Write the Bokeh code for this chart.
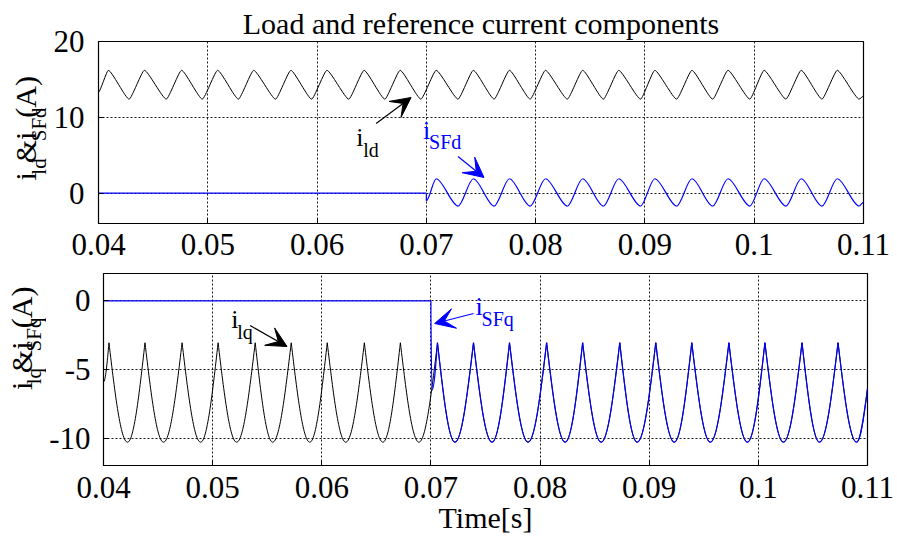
import math
from bokeh.plotting import figure
from bokeh.models import (ColumnDataSource, FixedTicker, Label, Arrow, VeeHead, Range1d, Title)
from bokeh.layouts import column, row
from bokeh.embed import file_html
from bokeh.resources import INLINE

# ---------------- data ----------------
x_ticks = [0.04, 0.05, 0.06, 0.07, 0.08, 0.09, 0.10, 0.11]
x_tick_labels = ["0.04", "0.05", "0.06", "0.07", "0.08", "0.09", "0.1", "0.11"]
y1_ticks = [0, 10, 20]
y1_tick_labels = ["0", "10", "20"]
y2_ticks = [-10, -5, 0]
y2_tick_labels = ["-10", "-5", "0"]

# load d-current i_ld : extrema (start, peak, trough, ..., end)
ild_t = [0.0400, 0.0409, 0.0428, 0.0442, 0.0462, 0.0476, 0.0495, 0.0509, 0.0528,
         0.0542, 0.0562, 0.0576, 0.0595, 0.0609, 0.0629, 0.0643, 0.0662, 0.0676,
         0.0695, 0.0709, 0.0729, 0.0743, 0.0762, 0.0776, 0.0795, 0.0809, 0.0829,
         0.0843, 0.0862, 0.0876, 0.0896, 0.0909, 0.0929, 0.0943, 0.0962, 0.0976,
         0.0996, 0.1009, 0.1029, 0.1043, 0.1062, 0.1076, 0.1096, 0.1100]
ild_v = [13.3, 16.2, 12.4, 16.2, 12.4, 16.2, 12.4, 16.2, 12.4,
         16.2, 12.4, 16.2, 12.4, 16.2, 12.4, 16.2, 12.4, 16.2,
         12.4, 16.2, 12.4, 16.2, 12.4, 16.2, 12.4, 16.2, 12.4,
         16.2, 12.4, 16.2, 12.4, 16.2, 12.4, 16.2, 12.4, 16.2,
         12.4, 16.2, 12.4, 16.2, 12.4, 16.2, 12.4, 12.8]

# reference d-current i_SFd
isfd_t = [0.0400, 0.0700, 0.0700, 0.0709, 0.0729, 0.0743, 0.0762, 0.0776, 0.0795,
          0.0809, 0.0829, 0.0843, 0.0862, 0.0876, 0.0896, 0.0909, 0.0929, 0.0943,
          0.0962, 0.0976, 0.0996, 0.1009, 0.1029, 0.1043, 0.1062, 0.1076, 0.1096,
          0.1100]
isfd_v = [0.0, 0.0, -1.0, 1.9, -1.7, 1.9, -1.7, 1.9, -1.7,
          1.9, -1.7, 1.9, -1.7, 1.9, -1.7, 1.9, -1.7, 1.9,
          -1.7, 1.9, -1.7, 1.9, -1.7, 1.9, -1.7, 1.9, -1.7,
          -1.2]

# load q-current i_lq
ilq_t = [0.0400, 0.0405, 0.0422, 0.0438, 0.0455, 0.0472, 0.0489, 0.0505, 0.0522,
         0.0539, 0.0555, 0.0572, 0.0589, 0.0605, 0.0622, 0.0639, 0.0656, 0.0672,
         0.0689, 0.0706, 0.0722, 0.0739, 0.0756, 0.0772, 0.0789, 0.0806, 0.0823,
         0.0839, 0.0856, 0.0873, 0.0889, 0.0906, 0.0923, 0.0939, 0.0956, 0.0973,
         0.0990, 0.1006, 0.1023, 0.1040, 0.1056, 0.1073, 0.1090, 0.1100]
ilq_v = [-5.9, -3.05, -10.3, -3.05, -10.3, -3.05, -10.3, -3.05, -10.3,
         -3.05, -10.3, -3.05, -10.3, -3.05, -10.3, -3.05, -10.3, -3.05,
         -10.3, -3.05, -10.3, -3.05, -10.3, -3.05, -10.3, -3.05, -10.3,
         -3.05, -10.3, -3.05, -10.3, -3.05, -10.3, -3.05, -10.3, -3.05,
         -10.3, -3.05, -10.3, -3.05, -10.3, -3.05, -10.3, -6.4]

# reference q-current i_SFq
isfq_t = [0.0400, 0.0700, 0.0700, 0.0701, 0.0706, 0.0722, 0.0739, 0.0756, 0.0772,
          0.0789, 0.0806, 0.0823, 0.0839, 0.0856, 0.0873, 0.0889, 0.0906, 0.0923,
          0.0939, 0.0956, 0.0973, 0.0990, 0.1006, 0.1023, 0.1040, 0.1056, 0.1073,
          0.1090, 0.1100]
isfq_v = [0.0, 0.0, -1.0, -6.5, -3.05, -10.3, -3.05, -10.3, -3.05,
          -10.3, -3.05, -10.3, -3.05, -10.3, -3.05, -10.3, -3.05, -10.3,
          -3.05, -10.3, -3.05, -10.3, -3.05, -10.3, -3.05, -10.3, -3.05,
          -10.3, -6.4]

# ---------------- style / layout ----------------
FONT = "Liberation Serif"
BLUE = "#0000ff"
W = 897
H1 = 262                # top row (page y 0..262)
Y2 = 262                # bottom row start
H2 = 542 - Y2           # bottom row (page y 262..542)
LW1, LW2 = 50, 46       # y-label strips
F1 = dict(l=97, r=863, t=41, b=223)     # frame boxes in page pixels
F2 = dict(l=101, r=867, t=273, b=465)
BASE = 0.33             # baseline correction of Bokeh labels (in em)


def segs(t, v, mode, f=0.36):
    d = dict(x0=[], y0=[], x1=[], y1=[], cx0=[], cy0=[], cx1=[], cy1=[])
    for i in range(len(t) - 1):
        a, b, ya, yb = t[i], t[i + 1], v[i], v[i + 1]
        dt, dy = b - a, yb - ya
        if mode == "smooth":
            c0, c1 = (a + f * dt, ya), (b - f * dt, yb)
        else:  # sharp at the upper extremum, rounded at the lower one
            if dy > 0:
                c0, c1 = (a + 0.36 * dt, ya), (b - 0.33 * dt, yb - 0.52 * dy)
            elif dy < 0:
                c0, c1 = (a + 0.33 * dt, ya + 0.52 * dy), (b - 0.36 * dt, yb)
            else:
                c0, c1 = (a, ya), (b, yb)
        d["x0"].append(a); d["y0"].append(ya); d["x1"].append(b); d["y1"].append(yb)
        d["cx0"].append(c0[0]); d["cy0"].append(c0[1])
        d["cx1"].append(c1[0]); d["cy1"].append(c1[1])
    return ColumnDataSource(d)


def text_strip(w, h):
    p = figure(width=w, height=h, x_range=Range1d(0, w), y_range=Range1d(h, 0),
               x_axis_type=None, y_axis_type=None, output_backend="svg",
               toolbar_location=None, title=None, min_border=0,
               min_border_left=0, min_border_right=0, min_border_top=0, min_border_bottom=0)
    p.outline_line_color = None
    p.background_fill_color = "white"
    p.border_fill_color = "white"
    return p


def make_fig(w, h, ylo, yhi, frame, lw, top_off, yticks, ylabels, y_standoff, x_standoff,
             title=None):
    p = figure(width=w, height=h, x_range=Range1d(0.04, 0.11), y_range=Range1d(ylo, yhi),
               output_backend="svg", toolbar_location=None, title=title,
               min_border_left=frame["l"] - lw, min_border_right=W - frame["r"],
               min_border_top=frame["t"] - top_off, min_border_bottom=top_off + h - frame["b"])
    p.background_fill_color = "white"
    p.border_fill_color = "white"
    p.outline_line_color = "black"
    p.outline_line_width = 1.2
    xt = FixedTicker(ticks=x_ticks)
    yt = FixedTicker(ticks=yticks)
    p.xaxis.ticker = xt
    p.yaxis.ticker = yt
    p.xaxis.major_label_overrides = dict(zip(x_ticks, x_tick_labels))
    p.yaxis.major_label_overrides = dict(zip(yticks, ylabels))
    for ax in (p.xaxis, p.yaxis):
        ax.major_tick_in = 5
        ax.major_tick_out = 0
        ax.minor_tick_line_color = None
        ax.axis_line_color = "black"
        ax.major_tick_line_color = "black"
        ax.major_label_text_font = FONT
        ax.major_label_text_font_size = "31px"
        ax.major_label_text_color = "black"
    p.xaxis.major_label_standoff = x_standoff
    p.yaxis.major_label_standoff = y_standoff
    p.xgrid.ticker = xt
    p.ygrid.ticker = yt
    for g in (p.xgrid, p.ygrid):
        g.grid_line_color = "black"
        g.grid_line_dash = "2 2"
        g.grid_line_width = 1
        g.grid_line_alpha = 0.9
    return p


TITLE = "Load and reference current components"
yl1 = text_strip(LW1, H1)
yl2 = text_strip(LW2, H2)
p1 = make_fig(W - LW1, H1, -4, 20, F1, LW1, 0, y1_ticks, y1_tick_labels, 14, 10, title=TITLE)
p2 = make_fig(W - LW2, H2, -12, 2, F2, LW2, Y2, y2_ticks, y2_tick_labels, 13, 11)

p1.title.align = "center"
p1.title.text_font = FONT
p1.title.text_font_size = "30px"
p1.title.text_font_style = "normal"
p1.title.text_color = "black"
p1.title.standoff = 3
p1.title.offset = 0

bax = p2.below[0]
bax.axis_label = "Time[s]"
bax.axis_label_text_font = FONT
bax.axis_label_text_font_size = "30px"
bax.axis_label_text_font_style = "normal"
bax.axis_label_text_color = "black"
bax.axis_label_standoff = 0

# curves
p1.bezier(x0="x0", y0="y0", x1="x1", y1="y1", cx0="cx0", cy0="cy0", cx1="cx1", cy1="cy1",
          source=segs(ild_t, ild_v, "smooth", 0.16), line_color="black", line_width=1)
p1.bezier(x0="x0", y0="y0", x1="x1", y1="y1", cx0="cx0", cy0="cy0", cx1="cx1", cy1="cy1",
          source=segs(isfd_t, isfd_v, "smooth", 0.3), line_color=BLUE, line_width=1.2)
p2.bezier(x0="x0", y0="y0", x1="x1", y1="y1", cx0="cx0", cy0="cy0", cx1="cx1", cy1="cy1",
          source=segs(ilq_t, ilq_v, "cusp"), line_color="black", line_width=1)
p2.bezier(x0="x0", y0="y0", x1="x1", y1="y1", cx0="cx0", cy0="cy0", cx1="cx1", cy1="cy1",
          source=segs(isfq_t, isfq_v, "cusp"), line_color=BLUE, line_width=1.2)


# pixel (page) -> data converters for annotation placement
def conv(frame, ylo, yhi):
    sx = (frame["r"] - frame["l"]) / 0.07
    sy = (frame["b"] - frame["t"]) / (yhi - ylo)
    fx = lambda px: 0.04 + (px - frame["l"]) / sx
    fy = lambda py: yhi - (py - frame["t"]) / sy
    return fx, fy


fx1, fy1 = conv(F1, -4, 20)
fx2, fy2 = conv(F2, -12, 2)


def lab(p, fx, fy, px, py, text, size, color="black", rotated=False, align="left"):
    # px, py: wanted baseline position in page pixels
    if rotated:
        px = px - BASE * size
    else:
        py = py - BASE * size
    p.add_layout(Label(x=fx(px), y=fy(py), text=text, text_font=FONT,
                       text_font_size=f"{size}px", text_color=color, text_align=align,
                       text_baseline="alphabetic", angle=math.pi / 2 if rotated else 0.0))


def arrow(p, fx, fy, x0, y0, x1, y1, color):
    p.add_layout(Arrow(end=VeeHead(size=20, fill_color=color, line_color=color, line_width=1),
                       x_start=fx(x0), y_start=fy(y0), x_end=fx(x1), y_end=fy(y1),
                       line_color=color, line_width=1.2))


ident = lambda v: v

# vertical axis labels built from pieces (main + subscript)
WID = {"i": 0.278, "l": 0.278, "d": 0.5, "&": 0.778, "S": 0.556, "F": 0.556,
       "q": 0.5, "(": 0.333, "A": 0.722, ")": 0.333}


def ylabel(p, base_x, sub_x, start_y, pieces):
    y = start_y
    for txt, sub in pieces:
        size = 21 if sub else 30
        bx = sub_x if sub else base_x
        lab(p, ident, ident, bx, y, txt, size, rotated=True)
        y -= sum(WID[c] for c in txt) * size


ylabel(yl1, 35, 45, 200, [("i", 0), ("ld", 1), ("&i", 0), ("SFd", 1), ("(A)", 0)])
ylabel(yl2, 31, 40, 432 - Y2, [("i", 0), ("lq", 1), ("&i", 0), ("SFq", 1), ("(A)", 0)])

# in-plot annotations
lab(p1, fx1, fy1, 355, 146, "i", 26)
lab(p1, fx1, fy1, 362, 156, "ld", 20)
arrow(p1, fx1, fy1, 375, 123, 410, 97, "black")

lab(p1, fx1, fy1, 422, 139, "i", 26, color=BLUE)
lab(p1, fx1, fy1, 428, 148, "SFd", 20, color=BLUE)
arrow(p1, fx1, fy1, 457, 156, 483, 177, BLUE)

lab(p2, fx2, fy2, 229, 328, "i", 26)
lab(p2, fx2, fy2, 235, 338, "lq", 20)
arrow(p2, fx2, fy2, 248, 325, 285, 346, "black")

lab(p2, fx2, fy2, 474, 315, "i", 26, color=BLUE)
lab(p2, fx2, fy2, 480, 325, "SFq", 20, color=BLUE)
arrow(p2, fx2, fy2, 472, 313, 433, 323, BLUE)

layout = column(row(yl1, p1, spacing=0), row(yl2, p2, spacing=0), spacing=0)
open("out.html", "w").write(file_html(layout, INLINE))
